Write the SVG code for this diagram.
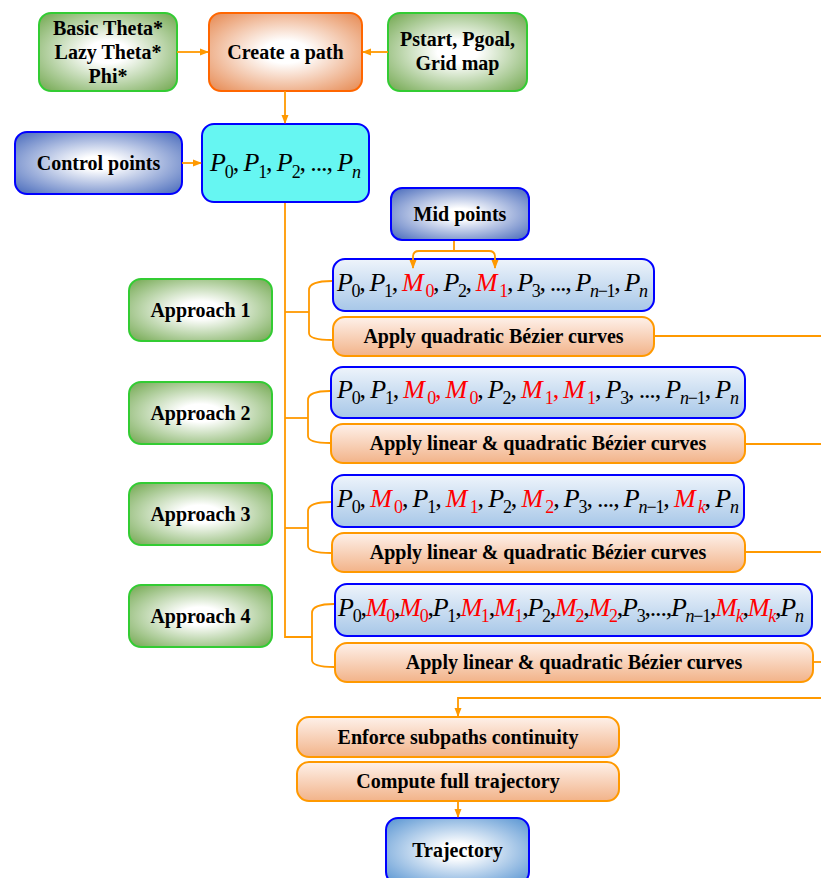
<svg xmlns="http://www.w3.org/2000/svg" width="821" height="878" viewBox="0 0 821 878">
<style>
.lbl{font-family:"Liberation Serif","Times New Roman",serif;font-weight:bold;font-size:20px;text-anchor:middle;fill:#000}
.math{font-family:"Liberation Serif","Times New Roman",serif;font-size:26px;fill:#000}
.i{font-style:italic}
.s{font-size:18px}
.r{fill:#FF0000}
.con{fill:none;stroke:#FF9900;stroke-width:1.8}
.green{fill:url(#gGreen);stroke:#33CC33;stroke-width:2}
.orange{fill:url(#gOrange);stroke:#FF6600;stroke-width:2}
.blue{fill:url(#gBlue);stroke:#0000FF;stroke-width:2}
.traj{fill:url(#gTraj);stroke:#0000FF;stroke-width:2}
.cyan{fill:#66F6F2;stroke:#0000FF;stroke-width:2}
.form{fill:url(#gForm);stroke:#0000FF;stroke-width:2}
.apply{fill:url(#gApply);stroke:#FF9900;stroke-width:2}
</style>
<defs>
<radialGradient id="gGreen" cx="50%" cy="50%" r="72%">
<stop offset="0.2" stop-color="#FFFFFF"/><stop offset="1" stop-color="#6CA448"/>
</radialGradient>
<radialGradient id="gOrange" cx="50%" cy="50%" r="72%">
<stop offset="0.2" stop-color="#FFFFFF"/><stop offset="1" stop-color="#E5844A"/>
</radialGradient>
<radialGradient id="gBlue" cx="50%" cy="50%" r="72%">
<stop offset="0.15" stop-color="#FFFFFF"/><stop offset="1" stop-color="#3F63B8"/>
</radialGradient>
<radialGradient id="gTraj" cx="50%" cy="50%" r="72%">
<stop offset="0.15" stop-color="#FFFFFF"/><stop offset="1" stop-color="#4F8FD0"/>
</radialGradient>
<linearGradient id="gForm" x1="0" y1="0" x2="0" y2="1">
<stop offset="0" stop-color="#EEF4FB"/><stop offset="1" stop-color="#A7C7E8"/>
</linearGradient>
<linearGradient id="gApply" x1="0" y1="0" x2="0" y2="1">
<stop offset="0" stop-color="#FEF1EA"/><stop offset="1" stop-color="#F2B389"/>
</linearGradient>
<marker id="ah" markerWidth="9" markerHeight="8" refX="8" refY="4" orient="auto-start-reverse" markerUnits="userSpaceOnUse">
<path d="M0,0.5 L9,4 L0,7.5 z" fill="#FF9900"/>
</marker>
</defs>

<g id="algorithms">
<rect class="green" x="39" y="13" width="138" height="78" rx="12"/>
<text class="lbl" x="108" y="35">Basic Theta*</text>
<text class="lbl" x="108" y="59">Lazy Theta*</text>
<text class="lbl" x="108" y="83">Phi*</text>
</g>
<g id="create-path">
<rect class="orange" x="209" y="13" width="153" height="78" rx="12"/>
<text class="lbl" x="285.5" y="59">Create a path</text>
</g>
<g id="inputs">
<rect class="green" x="388" y="13" width="139" height="78" rx="12"/>
<text class="lbl" x="457.5" y="46">Pstart, Pgoal,</text>
<text class="lbl" x="457.5" y="70">Grid map</text>
</g>
<g id="control-points">
<rect class="blue" x="15" y="132" width="167" height="62" rx="12"/>
<text class="lbl" x="98.5" y="170">Control points</text>
</g>
<g id="points">
<rect class="cyan" x="202" y="124" width="167" height="78" rx="12"/>
<text class="math" x="210" y="171" font-size="29" textLength="151" lengthAdjust="spacing"><tspan class="i">P</tspan><tspan class="s" font-size="20" dy="7">0</tspan><tspan dy="-7">, </tspan><tspan class="i">P</tspan><tspan class="s" font-size="20" dy="7">1</tspan><tspan dy="-7">, </tspan><tspan class="i">P</tspan><tspan class="s" font-size="20" dy="7">2</tspan><tspan dy="-7">, ..., </tspan><tspan class="i">P</tspan><tspan class="s i" font-size="20" dy="7">n</tspan></text>
</g>
<g id="mid-points">
<rect class="blue" x="391" y="188" width="138" height="52" rx="11"/>
<text class="lbl" x="460" y="221">Mid points</text>
</g>

<g id="approach1">
<rect class="green" x="129" y="279" width="143" height="62" rx="12"/>
<text class="lbl" x="200.5" y="317">Approach 1</text>
</g>
<g id="approach2">
<rect class="green" x="129" y="382" width="143" height="62" rx="12"/>
<text class="lbl" x="200.5" y="420">Approach 2</text>
</g>
<g id="approach3">
<rect class="green" x="129" y="483" width="143" height="62" rx="12"/>
<text class="lbl" x="200.5" y="521">Approach 3</text>
</g>
<g id="approach4">
<rect class="green" x="129" y="585" width="143" height="62" rx="12"/>
<text class="lbl" x="200.5" y="623">Approach 4</text>
</g>

<g id="sequence1">
<rect class="form" x="333" y="259" width="321" height="52" rx="12"/>
<text class="math" x="337" y="291" textLength="311" lengthAdjust="spacing"><tspan class="i">P</tspan><tspan class="s" dy="6">0</tspan><tspan dy="-6">, </tspan><tspan class="i">P</tspan><tspan class="s" dy="6">1</tspan><tspan dy="-6">, </tspan><tspan class="i r">M</tspan><tspan class="s r" dy="6"> 0</tspan><tspan dy="-6">, </tspan><tspan class="i">P</tspan><tspan class="s" dy="6">2</tspan><tspan dy="-6">, </tspan><tspan class="i r">M</tspan><tspan class="s r" dy="6"> 1</tspan><tspan dy="-6">, </tspan><tspan class="i">P</tspan><tspan class="s" dy="6">3</tspan><tspan dy="-6">, ..., </tspan><tspan class="i">P</tspan><tspan class="s" dy="6"><tspan class="i">n</tspan>−1</tspan><tspan dy="-6">, </tspan><tspan class="i">P</tspan><tspan class="s i" dy="6">n</tspan></text>
</g>
<g id="apply1">
<rect class="apply" x="333" y="317" width="321" height="39" rx="12"/>
<text class="lbl" x="493.5" y="343">Apply quadratic Bézier curves</text>
</g>

<g id="sequence2">
<rect class="form" x="331" y="367" width="414" height="51" rx="12"/>
<text class="math" x="337" y="398" textLength="402" lengthAdjust="spacing"><tspan class="i">P</tspan><tspan class="s" dy="6">0</tspan><tspan dy="-6">, </tspan><tspan class="i">P</tspan><tspan class="s" dy="6">1</tspan><tspan dy="-6">, </tspan><tspan class="i r">M</tspan><tspan class="s r" dy="6"> 0</tspan><tspan class="r" dy="-6">, </tspan><tspan class="i r">M</tspan><tspan class="s r" dy="6"> 0</tspan><tspan dy="-6">, </tspan><tspan class="i">P</tspan><tspan class="s" dy="6">2</tspan><tspan dy="-6">, </tspan><tspan class="i r">M</tspan><tspan class="s r" dy="6"> 1</tspan><tspan class="r" dy="-6">, </tspan><tspan class="i r">M</tspan><tspan class="s r" dy="6"> 1</tspan><tspan dy="-6">, </tspan><tspan class="i">P</tspan><tspan class="s" dy="6">3</tspan><tspan dy="-6">, ..., </tspan><tspan class="i">P</tspan><tspan class="s" dy="6"><tspan class="i">n</tspan>−1</tspan><tspan dy="-6">, </tspan><tspan class="i">P</tspan><tspan class="s i" dy="6">n</tspan></text>
</g>
<g id="apply2">
<rect class="apply" x="331" y="424" width="414" height="39" rx="12"/>
<text class="lbl" x="538" y="450">Apply linear &amp; quadratic Bézier curves</text>
</g>

<g id="sequence3">
<rect class="form" x="332" y="475" width="412" height="52" rx="12"/>
<text class="math" x="337" y="507" textLength="402" lengthAdjust="spacing"><tspan class="i">P</tspan><tspan class="s" dy="6">0</tspan><tspan dy="-6">, </tspan><tspan class="i r">M</tspan><tspan class="s r" dy="6"> 0</tspan><tspan dy="-6">, </tspan><tspan class="i">P</tspan><tspan class="s" dy="6">1</tspan><tspan dy="-6">, </tspan><tspan class="i r">M</tspan><tspan class="s r" dy="6"> 1</tspan><tspan dy="-6">, </tspan><tspan class="i">P</tspan><tspan class="s" dy="6">2</tspan><tspan dy="-6">, </tspan><tspan class="i r">M</tspan><tspan class="s r" dy="6"> 2</tspan><tspan dy="-6">, </tspan><tspan class="i">P</tspan><tspan class="s" dy="6">3</tspan><tspan dy="-6">, ..., </tspan><tspan class="i">P</tspan><tspan class="s" dy="6"><tspan class="i">n</tspan>−1</tspan><tspan dy="-6">, </tspan><tspan class="i r">M</tspan><tspan class="s r i" dy="6"> k</tspan><tspan dy="-6">, </tspan><tspan class="i">P</tspan><tspan class="s i" dy="6">n</tspan></text>
</g>
<g id="apply3">
<rect class="apply" x="332" y="533" width="413" height="39" rx="12"/>
<text class="lbl" x="538" y="559">Apply linear &amp; quadratic Bézier curves</text>
</g>

<g id="sequence4">
<rect class="form" x="335" y="584" width="477" height="52" rx="12"/>
<text class="math" x="338" y="616" textLength="466" lengthAdjust="spacing"><tspan class="i">P</tspan><tspan class="s" dy="6">0</tspan><tspan dy="-6">,</tspan><tspan class="i r">M</tspan><tspan class="s r" dy="6">0</tspan><tspan dy="-6">,</tspan><tspan class="i r">M</tspan><tspan class="s r" dy="6">0</tspan><tspan dy="-6">,</tspan><tspan class="i">P</tspan><tspan class="s" dy="6">1</tspan><tspan dy="-6">,</tspan><tspan class="i r">M</tspan><tspan class="s r" dy="6">1</tspan><tspan dy="-6">,</tspan><tspan class="i r">M</tspan><tspan class="s r" dy="6">1</tspan><tspan dy="-6">,</tspan><tspan class="i">P</tspan><tspan class="s" dy="6">2</tspan><tspan dy="-6">,</tspan><tspan class="i r">M</tspan><tspan class="s r" dy="6">2</tspan><tspan dy="-6">,</tspan><tspan class="i r">M</tspan><tspan class="s r" dy="6">2</tspan><tspan dy="-6">,</tspan><tspan class="i">P</tspan><tspan class="s" dy="6">3</tspan><tspan dy="-6">,...,</tspan><tspan class="i">P</tspan><tspan class="s" dy="6"><tspan class="i">n</tspan>−1</tspan><tspan dy="-6">,</tspan><tspan class="i r">M</tspan><tspan class="s r i" dy="6">k</tspan><tspan dy="-6">,</tspan><tspan class="i r">M</tspan><tspan class="s r i" dy="6">k</tspan><tspan dy="-6">,</tspan><tspan class="i">P</tspan><tspan class="s i" dy="6">n</tspan></text>
</g>
<g id="apply4">
<rect class="apply" x="335" y="643" width="478" height="39" rx="12"/>
<text class="lbl" x="574" y="669">Apply linear &amp; quadratic Bézier curves</text>
</g>

<g id="enforce">
<rect class="apply" x="297" y="717" width="322" height="40" rx="12"/>
<text class="lbl" x="458" y="744">Enforce subpaths continuity</text>
</g>
<g id="compute">
<rect class="apply" x="297" y="762" width="322" height="39" rx="12"/>
<text class="lbl" x="458" y="788">Compute full trajectory</text>
</g>
<g id="trajectory">
<rect class="traj" x="386" y="818" width="143" height="66" rx="12"/>
<text class="lbl" x="457.5" y="857">Trajectory</text>
</g>

<g id="connectors">
<line class="con" x1="177" y1="52" x2="208" y2="52" marker-end="url(#ah)"/>
<line class="con" x1="388" y1="52" x2="363" y2="52" marker-end="url(#ah)"/>
<line class="con" x1="285" y1="91" x2="285" y2="123" marker-end="url(#ah)"/>
<line class="con" x1="182" y1="163" x2="201" y2="163" marker-end="url(#ah)"/>
<path class="con" d="M285,203 L285,637 L312,637"/>
<line class="con" x1="285" y1="312" x2="309" y2="312"/>
<line class="con" x1="285" y1="418" x2="308" y2="418"/>
<line class="con" x1="285" y1="528" x2="308" y2="528"/>
<path class="con" d="M332,281 C318,281 309,283 309,290 L309,333 C309,338 318,340 332,340"/>
<path class="con" d="M330,391 C317,391 308,393 308,400 L308,436 C308,441 317,443 330,443"/>
<path class="con" d="M331,502 C318,502 308,504 308,511 L308,546 C308,551 318,553 331,553"/>
<path class="con" d="M334,604 C321,604 312,606 312,613 L312,660 C312,665 321,667 334,667"/>
<line class="con" x1="454" y1="241" x2="454" y2="251"/>
<path class="con" d="M413,268 L413,257 Q413,251 419,251 L489,251 Q495,251 495,257 L495,268" marker-start="url(#ah)" marker-end="url(#ah)"/>
<line class="con" x1="655" y1="336" x2="821" y2="336"/>
<line class="con" x1="746" y1="444" x2="821" y2="444"/>
<line class="con" x1="746" y1="552" x2="821" y2="552"/>
<line class="con" x1="814" y1="662" x2="821" y2="662"/>
<path class="con" d="M821,698 L458,698 L458,716" marker-end="url(#ah)"/>
<line class="con" x1="458" y1="802" x2="458" y2="817" marker-end="url(#ah)"/>
</g>
</svg>
